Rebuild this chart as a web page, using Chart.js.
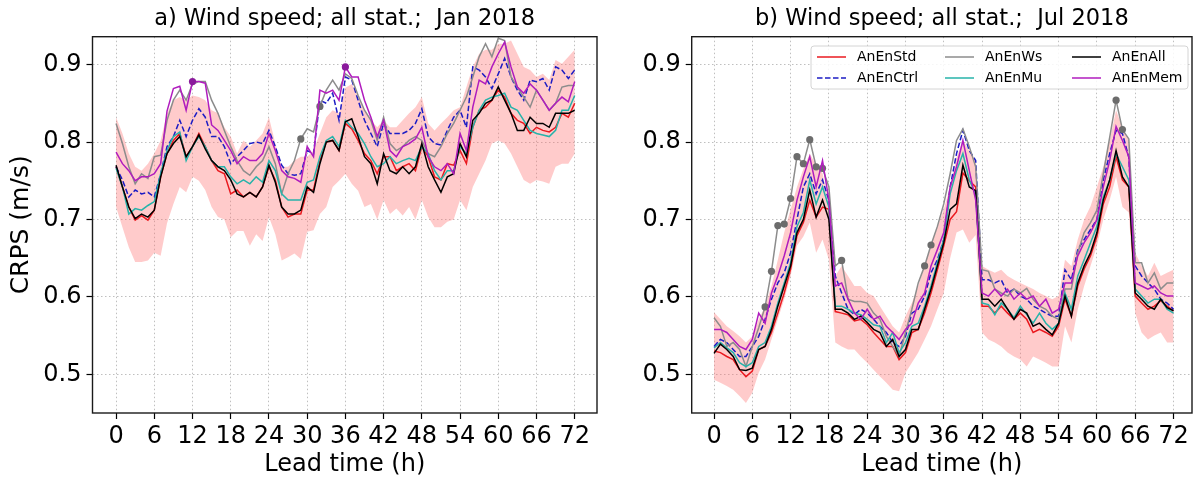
<!DOCTYPE html>
<html>
<head>
<meta charset="utf-8">
<script src="https://cdn.jsdelivr.net/npm/chart.js@4.4.1/dist/chart.umd.min.js"></script>
<style>
    body { margin: 0; background: #fff; }
    #wrap { position: relative; width: 1195px; height: 479px; overflow: hidden; }
    canvas { position: absolute; top: 0; }
    #panel-a { left: 0; }
    #panel-b { left: 600px; }
</style>
</head>
<body>
<div id="wrap">
    <canvas id="panel-a" width="600" height="479"></canvas>
    <canvas id="panel-b" width="595" height="479"></canvas>
</div>
<script>
"use strict";

// lead time (h)
const hours = [0,1,2,3,4,5,6,7,8,9,10,11,12,13,14,15,16,17,18,19,20,21,22,23,24,
    25,26,27,28,29,30,31,32,33,34,35,36,37,38,39,40,41,42,43,44,45,46,47,48,
    49,50,51,52,53,54,55,56,57,58,59,60,61,62,63,64,65,66,67,68,69,70,71,72];
const xTicks = [0, 6, 12, 18, 24, 30, 36, 42, 48, 54, 60, 66, 72];
const yTicks = [0.5, 0.6, 0.7, 0.8, 0.9];

const seriesNames = ["AnEnStd", "AnEnCtrl", "AnEnWs", "AnEnMu", "AnEnAll", "AnEnMem"];

// a) Jan 2018
const stdJan = [0.768,0.742,0.716,0.699,0.705,0.699,0.712,0.755,0.785,0.802,
    0.811,0.781,0.794,0.811,0.794,0.776,0.763,0.759,0.733,0.738,
    0.729,0.735,0.729,0.742,0.768,0.751,0.716,0.703,0.707,0.707,
    0.738,0.738,0.776,0.800,0.802,0.789,0.824,0.817,0.802,0.785,
    0.776,0.759,0.781,0.781,0.763,0.768,0.772,0.763,0.794,0.781,
    0.755,0.751,0.772,0.770,0.789,0.772,0.819,0.841,0.845,0.854,
    0.867,0.858,0.837,0.828,0.824,0.811,0.819,0.815,0.813,0.819,
    0.837,0.832,0.850];
const ctrlJan = [0.768,0.751,0.729,0.738,0.733,0.735,0.729,0.759,0.794,0.807,
    0.828,0.807,0.828,0.843,0.832,0.807,0.807,0.794,0.772,0.781,
    0.789,0.798,0.800,0.798,0.815,0.794,0.770,0.759,0.757,0.759,
    0.789,0.785,0.854,0.850,0.863,0.828,0.884,0.880,0.854,0.828,
    0.811,0.794,0.824,0.811,0.811,0.811,0.815,0.824,0.843,0.807,
    0.798,0.796,0.815,0.832,0.841,0.819,0.897,0.893,0.884,0.869,
    0.888,0.908,0.884,0.867,0.854,0.880,0.878,0.882,0.867,0.897,
    0.893,0.882,0.893];
const wsJan = [0.824,0.798,0.768,0.746,0.759,0.753,0.781,0.783,0.828,0.854,
    0.867,0.854,0.875,0.878,0.878,0.854,0.837,0.815,0.794,0.776,
    0.763,0.757,0.768,0.776,0.794,0.772,0.733,0.759,0.776,0.804,
    0.817,0.813,0.846,0.867,0.880,0.867,0.888,0.882,0.860,0.841,
    0.828,0.802,0.832,0.798,0.789,0.794,0.802,0.807,0.802,0.785,
    0.781,0.794,0.811,0.824,0.841,0.858,0.884,0.910,0.927,0.910,
    0.934,0.931,0.884,0.871,0.858,0.845,0.867,0.854,0.841,0.850,
    0.871,0.873,0.873];
const muJan = [0.766,0.742,0.707,0.714,0.712,0.718,0.723,0.759,0.789,0.807,
    0.813,0.776,0.794,0.807,0.794,0.776,0.768,0.768,0.755,0.746,
    0.751,0.746,0.755,0.748,0.776,0.763,0.733,0.725,0.725,0.725,
    0.748,0.751,0.781,0.802,0.807,0.794,0.828,0.819,0.811,0.798,
    0.781,0.768,0.772,0.781,0.772,0.776,0.779,0.776,0.794,0.785,
    0.763,0.751,0.763,0.763,0.794,0.785,0.819,0.841,0.854,0.858,
    0.860,0.863,0.845,0.841,0.828,0.815,0.811,0.809,0.807,0.815,
    0.841,0.841,0.860];
const allJan = [0.770,0.742,0.716,0.701,0.707,0.703,0.712,0.755,0.785,0.798,
    0.807,0.781,0.794,0.809,0.791,0.776,0.768,0.763,0.751,0.733,
    0.729,0.735,0.729,0.742,0.770,0.748,0.716,0.707,0.707,0.712,
    0.742,0.735,0.772,0.800,0.802,0.789,0.826,0.830,0.807,0.781,
    0.772,0.746,0.785,0.763,0.759,0.768,0.759,0.768,0.798,0.768,
    0.751,0.735,0.755,0.759,0.798,0.781,0.828,0.837,0.850,0.854,
    0.871,0.854,0.837,0.815,0.815,0.832,0.824,0.824,0.819,0.837,
    0.837,0.837,0.841];
const memJan = [0.787,0.772,0.763,0.750,0.755,0.755,0.759,0.772,0.840,0.869,
    0.872,0.841,0.878,0.878,0.876,0.822,0.815,0.802,0.789,0.772,
    0.781,0.776,0.776,0.785,0.811,0.789,0.763,0.755,0.753,0.748,
    0.794,0.781,0.867,0.863,0.867,0.854,0.897,0.884,0.884,0.854,
    0.832,0.807,0.828,0.789,0.781,0.794,0.798,0.804,0.819,0.781,
    0.768,0.763,0.772,0.759,0.811,0.789,0.845,0.880,0.875,0.897,
    0.914,0.929,0.897,0.871,0.863,0.875,0.867,0.854,0.841,0.850,
    0.858,0.852,0.878];
const bandHiJan = [0.832,0.811,0.785,0.768,0.763,0.772,0.785,0.802,0.837,0.854,
    0.858,0.854,0.860,0.858,0.854,0.841,0.837,0.819,0.807,0.785,
    0.802,0.794,0.802,0.811,0.832,0.798,0.768,0.768,0.776,0.781,
    0.781,0.789,0.811,0.832,0.841,0.837,0.870,0.875,0.858,0.841,
    0.828,0.819,0.828,0.819,0.819,0.828,0.837,0.845,0.858,0.824,
    0.815,0.824,0.832,0.841,0.845,0.871,0.897,0.914,0.919,0.919,
    0.927,0.927,0.931,0.914,0.897,0.893,0.884,0.888,0.880,0.906,
    0.901,0.910,0.919];
const bandLoJan = [0.716,0.690,0.664,0.645,0.645,0.647,0.657,0.653,0.695,0.720,
    0.742,0.735,0.755,0.750,0.738,0.716,0.703,0.700,0.677,0.685,
    0.685,0.666,0.681,0.672,0.703,0.681,0.647,0.651,0.656,0.649,
    0.684,0.686,0.707,0.716,0.742,0.750,0.759,0.746,0.737,0.716,
    0.720,0.700,0.725,0.707,0.714,0.705,0.716,0.700,0.725,0.703,
    0.690,0.690,0.697,0.700,0.725,0.712,0.742,0.759,0.776,0.798,
    0.802,0.798,0.785,0.768,0.751,0.746,0.751,0.749,0.746,0.768,
    0.772,0.772,0.785];

// b) Jul 2018
const stdJul = [0.530,0.528,0.523,0.519,0.506,0.497,0.504,0.532,0.536,0.554,
    0.579,0.605,0.636,0.679,0.696,0.725,0.703,0.716,0.713,0.581,
    0.579,0.577,0.569,0.571,0.564,0.554,0.545,0.536,0.536,0.519,
    0.528,0.554,0.558,0.579,0.605,0.635,0.666,0.700,0.710,0.760,
    0.750,0.742,0.588,0.588,0.579,0.588,0.579,0.571,0.579,0.571,
    0.554,0.558,0.554,0.549,0.562,0.597,0.575,0.614,0.636,0.653,
    0.678,0.720,0.742,0.781,0.751,0.742,0.601,0.592,0.584,0.588,
    0.595,0.588,0.582];
const ctrlJul = [0.536,0.545,0.541,0.532,0.523,0.523,0.536,0.549,0.571,0.597,
    0.618,0.631,0.657,0.700,0.742,0.759,0.733,0.751,0.725,0.627,
    0.605,0.584,0.577,0.584,0.579,0.571,0.562,0.554,0.541,0.536,
    0.549,0.579,0.584,0.601,0.631,0.648,0.674,0.742,0.785,0.815,
    0.789,0.776,0.622,0.622,0.618,0.622,0.605,0.610,0.601,0.597,
    0.588,0.584,0.579,0.575,0.575,0.635,0.622,0.661,0.674,0.687,
    0.700,0.751,0.785,0.815,0.811,0.780,0.640,0.627,0.618,0.610,
    0.597,0.592,0.584];
const wsJul = [0.573,0.562,0.536,0.541,0.532,0.510,0.536,0.560,0.587,0.633,
    0.692,0.694,0.727,0.781,0.772,0.803,0.768,0.766,0.742,0.640,
    0.647,0.597,0.594,0.594,0.592,0.579,0.571,0.549,0.536,0.523,
    0.554,0.584,0.618,0.640,0.667,0.691,0.720,0.759,0.802,0.817,
    0.794,0.768,0.635,0.633,0.610,0.605,0.601,0.610,0.605,0.611,
    0.597,0.588,0.584,0.575,0.571,0.610,0.610,0.657,0.683,0.696,
    0.712,0.759,0.806,0.854,0.816,0.804,0.644,0.644,0.618,0.631,
    0.610,0.618,0.618];
const muJul = [0.534,0.541,0.534,0.528,0.515,0.510,0.515,0.536,0.541,0.562,
    0.592,0.618,0.644,0.691,0.709,0.751,0.720,0.742,0.716,0.588,
    0.588,0.584,0.579,0.577,0.571,0.564,0.562,0.541,0.554,0.528,
    0.541,0.562,0.566,0.588,0.614,0.644,0.674,0.733,0.763,0.785,
    0.751,0.733,0.592,0.590,0.577,0.592,0.584,0.573,0.588,0.577,
    0.566,0.579,0.566,0.558,0.566,0.605,0.584,0.627,0.648,0.670,
    0.691,0.729,0.751,0.785,0.768,0.751,0.610,0.601,0.592,0.597,
    0.597,0.584,0.579];
const allJul = [0.527,0.539,0.532,0.523,0.506,0.505,0.508,0.532,0.536,0.558,
    0.588,0.614,0.640,0.683,0.700,0.738,0.703,0.725,0.700,0.584,
    0.584,0.579,0.571,0.575,0.567,0.558,0.554,0.536,0.545,0.523,
    0.532,0.558,0.558,0.584,0.610,0.640,0.670,0.713,0.720,0.770,
    0.742,0.737,0.597,0.597,0.588,0.597,0.584,0.571,0.584,0.579,
    0.562,0.566,0.558,0.551,0.566,0.601,0.575,0.618,0.640,0.657,
    0.683,0.725,0.751,0.789,0.755,0.742,0.605,0.597,0.588,0.584,
    0.597,0.586,0.582];
const memJul = [0.558,0.558,0.554,0.545,0.536,0.532,0.545,0.579,0.566,0.605,
    0.627,0.653,0.683,0.725,0.755,0.781,0.742,0.776,0.725,0.614,
    0.618,0.597,0.579,0.571,0.584,0.571,0.575,0.562,0.554,0.545,
    0.558,0.566,0.592,0.605,0.640,0.661,0.683,0.742,0.768,0.802,
    0.763,0.725,0.605,0.601,0.610,0.601,0.610,0.597,0.605,0.597,
    0.601,0.588,0.597,0.579,0.584,0.618,0.618,0.653,0.670,0.683,
    0.700,0.742,0.776,0.820,0.802,0.781,0.618,0.614,0.610,0.614,
    0.605,0.601,0.601];
const bandHiJul = [0.580,0.571,0.562,0.556,0.549,0.541,0.549,0.571,0.588,0.614,
    0.648,0.683,0.713,0.742,0.765,0.785,0.770,0.760,0.720,0.627,
    0.640,0.627,0.614,0.614,0.605,0.601,0.588,0.575,0.562,0.554,
    0.575,0.592,0.614,0.640,0.666,0.691,0.713,0.742,0.780,0.802,
    0.789,0.776,0.640,0.635,0.631,0.635,0.627,0.622,0.618,0.614,
    0.610,0.605,0.601,0.597,0.601,0.648,0.640,0.674,0.700,0.717,
    0.742,0.768,0.802,0.841,0.819,0.802,0.657,0.640,0.627,0.644,
    0.627,0.631,0.635];
const bandLoJul = [0.493,0.489,0.485,0.480,0.472,0.463,0.476,0.502,0.519,0.545,
    0.571,0.597,0.627,0.666,0.678,0.696,0.657,0.674,0.648,0.541,
    0.536,0.532,0.532,0.523,0.515,0.506,0.497,0.489,0.480,0.478,
    0.502,0.515,0.528,0.545,0.562,0.584,0.605,0.650,0.683,0.687,
    0.670,0.680,0.554,0.545,0.541,0.536,0.528,0.523,0.519,0.510,
    0.523,0.519,0.515,0.510,0.510,0.562,0.541,0.584,0.614,0.640,
    0.666,0.700,0.725,0.755,0.716,0.709,0.579,0.554,0.545,0.550,
    0.554,0.541,0.541];

// lead times that carry a marker
const wsDotsJan = [29, 32];
const memDotsJan = [12, 36];
const wsDotsJul = [8, 9, 10, 11, 12, 13, 14, 15, 16, 17, 20, 33, 34, 63, 64];
const memDotsJul = [];

const colors = {
    AnEnStd: "#ea1a20",
    AnEnCtrl: "#1c1cc4",
    AnEnWs: "#8c8c8c",
    AnEnMu: "#27b3aa",
    AnEnAll: "#000000",
    AnEnMem: "#b01cbe"
};
const dotColors = {AnEnWs: "#6c6c6c", AnEnMem: "#8a1a9c"};

Chart.defaults.font.family = "'DejaVu Sans', sans-serif";
Chart.defaults.color = "#000";

function points(values) {
    return hours.map((h, i) => ({x: h, y: values[i]}));
}

function lineSet(name, values, order, dots) {
    const dotList = dots || [];
    return {
        label: name,
        data: points(values),
        borderColor: colors[name],
        borderWidth: 1.5,
        borderDash: name === "AnEnCtrl" ? [5.5, 2.5] : [],
        fill: false,
        tension: 0,
        order: order,
        pointRadius: ctx => dotList.includes(hours[ctx.dataIndex]) ? 3.6 : 0,
        pointBackgroundColor: dotColors[name] || colors[name],
        pointBorderWidth: 0
    };
}

function buildDatasets(d) {
    return [
        lineSet("AnEnStd", d.std, 6),
        lineSet("AnEnCtrl", d.ctrl, 5),
        lineSet("AnEnWs", d.ws, 4, d.wsDots),
        lineSet("AnEnMu", d.mu, 3),
        lineSet("AnEnAll", d.all, 2),
        lineSet("AnEnMem", d.mem, 1, d.memDots),
        {label: "lo", data: points(d.lo), borderWidth: 0, pointRadius: 0, fill: false, order: 10},
        {label: "hi", data: points(d.hi), borderWidth: 0, pointRadius: 0, fill: "-1",
            backgroundColor: "rgba(255, 112, 112, 0.36)", order: 10}
    ];
}

const framePlugin = {
    id: "frame",
    afterDraw(chart) {
        const {ctx, chartArea: a} = chart;
        ctx.save();
        ctx.strokeStyle = "#1a1a1a";
        ctx.lineWidth = 1.4;
        ctx.strokeRect(a.left, a.top, a.right - a.left, a.bottom - a.top);
        ctx.restore();
    }
};

// legend sits inside panel b, three columns, filled column by column
const legendPlugin = {
    id: "innerLegend",
    afterDraw(chart) {
        const ctx = chart.ctx;
        const box = {x: 211, y: 46, w: 377, h: 43};
        const colX = [217, 345, 472];
        const rowY = [57, 78];
        ctx.save();
        ctx.beginPath();
        ctx.roundRect(box.x, box.y, box.w, box.h, 3);
        ctx.fillStyle = "rgba(255, 255, 255, 0.85)";
        ctx.fill();
        ctx.strokeStyle = "#d4d4d4";
        ctx.lineWidth = 1;
        ctx.stroke();
        ctx.font = "14px 'DejaVu Sans', sans-serif";
        ctx.textBaseline = "middle";
        seriesNames.forEach((name, i) => {
            const x = colX[Math.floor(i / 2)];
            const y = rowY[i % 2];
            ctx.beginPath();
            ctx.setLineDash(name === "AnEnCtrl" ? [5.5, 2.5] : []);
            ctx.strokeStyle = colors[name];
            ctx.lineWidth = 1.5;
            ctx.moveTo(x, y);
            ctx.lineTo(x + 29, y);
            ctx.stroke();
            ctx.setLineDash([]);
            ctx.fillStyle = "#000";
            ctx.fillText(name, x + 40, y);
        });
        ctx.restore();
    }
};

function makeChart(canvasId, title, d, xMin, xMax, yWidth, yTitle, extraPlugins) {
    const ctx = document.getElementById(canvasId).getContext("2d");
    return new Chart(ctx, {
        type: "line",
        data: {datasets: buildDatasets(d)},
        options: {
            responsive: false,
            animation: false,
            layout: {padding: {left: 0, right: 3, top: 0, bottom: 0}},
            plugins: {
                legend: {display: false},
                tooltip: {enabled: false},
                title: {
                    display: true,
                    text: title,
                    fullSize: false,
                    color: "#000",
                    font: {size: 22.5, weight: "normal"},
                    padding: {top: 6, bottom: 3.7}
                }
            },
            scales: {
                x: {
                    type: "linear",
                    min: xMin,
                    max: xMax,
                    afterBuildTicks: axis => { axis.ticks = xTicks.map(v => ({value: v})); },
                    afterFit: axis => { axis.height = 66; },
                    grid: {color: "#b8b8b8", lineWidth: 0.9, tickLength: 6, tickColor: "#000", tickWidth: 1.2},
                    border: {display: false, dash: [1.5, 2.5]},
                    ticks: {font: {size: 24}, padding: 3, maxRotation: 0, autoSkip: false},
                    title: {display: true, text: "Lead time (h)", font: {size: 24}, padding: {top: 0, bottom: 0}}
                },
                y: {
                    type: "linear",
                    min: 0.45,
                    max: 0.936,
                    afterBuildTicks: axis => { axis.ticks = yTicks.map(v => ({value: v})); },
                    afterFit: axis => { axis.width = yWidth; },
                    grid: {color: "#b8b8b8", lineWidth: 0.9, tickLength: 6, tickColor: "#000", tickWidth: 1.2},
                    border: {display: false, dash: [1.5, 2.5]},
                    ticks: {font: {size: 24}, padding: 5, callback: v => v.toFixed(1)},
                    title: {display: !!yTitle, text: yTitle || "", font: {size: 25}, padding: {top: 6, bottom: 0}}
                }
            }
        },
        plugins: [framePlugin].concat(extraPlugins || [])
    });
}

makeChart("panel-a", "a) Wind speed; all stat.;  Jan 2018", {
    std: stdJan, ctrl: ctrlJan, ws: wsJan, mu: muJan, all: allJan, mem: memJan,
    lo: bandLoJan, hi: bandHiJan, wsDots: wsDotsJan, memDots: memDotsJan
}, -3.7, 75.5, 92.5, "CRPS (m/s)");

makeChart("panel-b", "b) Wind speed; all stat.;  Jul 2018", {
    std: stdJul, ctrl: ctrlJul, ws: wsJul, mu: muJul, all: allJul, mem: memJul,
    lo: bandLoJul, hi: bandHiJul, wsDots: wsDotsJul, memDots: memDotsJul
}, -3.5, 74.9, 91.7, null, [legendPlugin]);
</script>
</body>
</html>
